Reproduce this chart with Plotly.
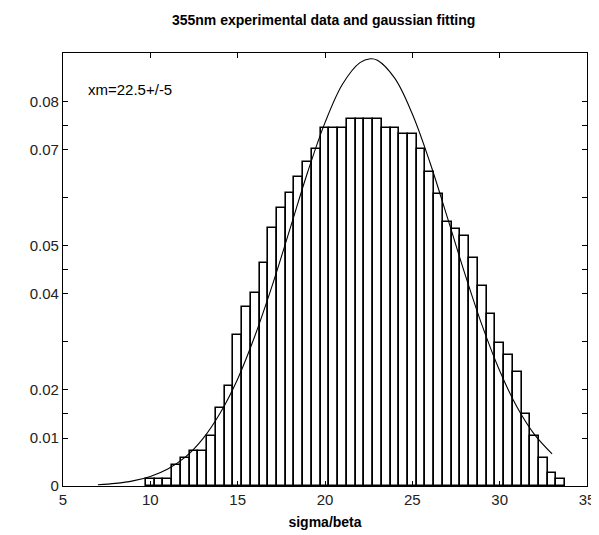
import plotly.graph_objects as go

# histogram bins (centers) and normalized frequencies
bin_centers = [10.0, 10.5, 11.0, 11.5, 12.0, 12.5, 13.0, 13.5, 14.0, 14.5,
               15.0, 15.5, 16.0, 16.5, 17.0, 17.5, 18.0, 18.5, 19.0, 19.5,
               20.0, 20.5, 21.0, 21.5, 22.0, 22.5, 23.0, 23.5, 24.0, 24.5,
               25.0, 25.5, 26.0, 26.5, 27.0, 27.5, 28.0, 28.5, 29.0, 29.5,
               30.0, 30.5, 31.0, 31.5, 32.0, 32.5, 33.0, 33.5]
frequencies = [0.0015, 0.0015, 0.0015, 0.0043, 0.0059, 0.0073, 0.0073, 0.0104, 0.0163, 0.0209,
               0.0315, 0.0373, 0.0403, 0.0464, 0.0537, 0.0580, 0.0611, 0.0643, 0.0674, 0.0701,
               0.0746, 0.0746, 0.0746, 0.0764, 0.0764, 0.0764, 0.0764, 0.0745, 0.0745, 0.0734,
               0.0734, 0.0703, 0.0654, 0.0608, 0.0550, 0.0536, 0.0520, 0.0476, 0.0417, 0.0359,
               0.0298, 0.0272, 0.0238, 0.0150, 0.0104, 0.0059, 0.0028, 0.0014]

# gaussian fit curve
fit_x = [7, 8, 9, 10, 11, 12, 13, 14, 15, 16, 17, 18, 19, 20, 21, 22, 22.6,
         23, 24, 25, 26, 27, 28, 29, 30, 31, 32, 33]
fit_y = [0.00026, 0.00054, 0.00106, 0.0020, 0.00355, 0.0060, 0.0098, 0.0152, 0.0223,
         0.0314, 0.0420, 0.0536, 0.0653, 0.0757, 0.0837, 0.0882, 0.0890,
         0.0887, 0.0849, 0.0775, 0.0675, 0.0560, 0.0443, 0.0334, 0.0240, 0.0164,
         0.0107, 0.0067]

y_tick_vals = [0, 0.01, 0.015, 0.02, 0.03, 0.04, 0.045, 0.05, 0.06, 0.07, 0.075, 0.08]
y_tick_text = ["0", "0.01", "", "0.02", "", "0.04", "", "0.05", "", "0.07", "", "0.08"]
x_tick_vals = [5, 10, 15, 20, 25, 30, 35]

title_text = "355nm experimental data and gaussian fitting"
x_title = "sigma/beta"
note_text = "xm=22.5+/-5"

fig = go.Figure()
fig.add_trace(go.Bar(
    x=bin_centers, y=frequencies, width=0.5,
    marker=dict(color="white", line=dict(color="black", width=1.6)),
    showlegend=False,
))
fig.add_trace(go.Scatter(
    x=fit_x, y=fit_y, mode="lines", line=dict(color="black", width=1.1, shape="spline"),
    showlegend=False,
))

font_family = "Liberation Sans, Arial, sans-serif"
fig.update_layout(
    width=599, height=535,
    margin=dict(l=55, r=14, t=45, b=57),
    paper_bgcolor="white", plot_bgcolor="white",
    bargap=0,
    title=dict(text="<b>" + title_text + "</b>", x=0.527, xanchor="center", y=0.978, yanchor="middle",
               font=dict(family=font_family, size=14, color="black")),
    font=dict(family=font_family, color="black"),
    annotations=[dict(x=6.3, y=0.0826, xref="x", yref="y", text=note_text, showarrow=False,
                      xanchor="left", yanchor="middle",
                      font=dict(family=font_family, size=15, color="black"))],
)
fig.update_xaxes(
    range=[5, 35], tickvals=x_tick_vals, ticks="inside", ticklen=5, tickcolor="black",
    showline=True, linecolor="black", linewidth=1.2, mirror="ticks", showgrid=False, zeroline=False,
    tickfont=dict(size=15, family=font_family, color="#222"),
    title=dict(text="<b>" + x_title + "</b>", font=dict(size=14, family=font_family, color="black"), standoff=10),
)
fig.update_yaxes(
    range=[0, 0.0902], tickvals=y_tick_vals, ticktext=y_tick_text, ticks="inside", ticklen=5,
    tickcolor="black",
    showline=True, linecolor="black", linewidth=1.2, mirror="ticks", showgrid=False, zeroline=False,
    tickfont=dict(size=15, family=font_family, color="#222"),
)

fig.write_html("out.html")
